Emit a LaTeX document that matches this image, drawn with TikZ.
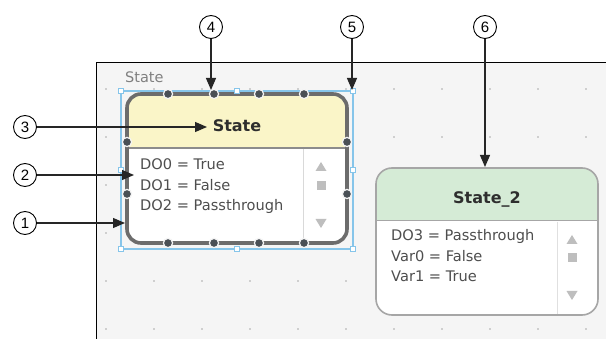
\documentclass[tikz,border=0pt]{standalone}
\usepackage{fontspec}
\setmainfont{DejaVu Sans}
\newfontfamily\numfont{Liberation Sans}
\usetikzlibrary{arrows.meta}
\definecolor{panelbg}{HTML}{F5F5F5}
\definecolor{gridc}{HTML}{CFCFCF}
\definecolor{hdryellow}{HTML}{FAF5C8}
\definecolor{hdrgreen}{HTML}{D5EBD6}
\definecolor{selborder}{HTML}{6C6C6C}
\definecolor{nodeborder}{HTML}{A6A6A6}
\definecolor{dotc}{HTML}{4A5056}
\definecolor{selblue}{HTML}{86C5EA}
\definecolor{bodytext}{HTML}{4E4E4E}
\definecolor{hdrtext}{HTML}{2E2E2E}
\definecolor{scrollc}{HTML}{BEBEBE}
\tikzset{
  callout/.style={circle, draw=black, line width=0.9pt, minimum size=23pt, inner sep=0pt, font=\numfont\fontsize{15}{15}\selectfont},
  pointer/.style={draw=black!85, line width=1.2pt, -{Triangle[length=12pt,width=10pt]}},
  bodyline/.style={anchor=base west, inner sep=0pt, text=bodytext, font=\fontsize{14.6}{16}\selectfont},
  hdrlabel/.style={anchor=base, inner sep=0pt, text=hdrtext, font=\bfseries\fontsize{16}{18}\selectfont},
  handle/.style={draw=selblue, fill=white, line width=1pt},
  bdot/.style={fill=dotc, draw=panelbg, line width=1.2pt},
  scrollmark/.style={fill=scrollc},
}
\begin{document}
\begin{tikzpicture}[x=1pt,y=-1pt]
\useasboundingbox (0,0) rectangle (606,339);
\fill[white] (0,0) rectangle (606,339);
% panel
\fill[panelbg] (96,63) rectangle (606,339);
\foreach \gx in {106,154,...,590} {
  \foreach \gy in {89,137,...,335} {
    \fill[gridc] (\gx-1,\gy-1) rectangle (\gx+1,\gy+1);
  }
}
\draw[black, line width=1pt] (96,339) -- (96,63) -- (606,63);
\node[anchor=base west, inner sep=0pt, text=black!50, font=\fontsize{14.5}{16}\selectfont] (lbl) at (125,83) {State};

% ---------- State (selected) ----------
\draw[selblue, line width=1.6pt] (121,91) rectangle (353,249);
\fill[white, rounded corners=14pt] (127,94) rectangle (347,243);
\begin{scope}
  \clip[rounded corners=14pt] (127,94) rectangle (347,243);
  \fill[hdryellow] (127,94) rectangle (347,148);
\end{scope}
\draw[black!45, line width=1.2pt] (127,148) -- (347,148);
\draw[black!15, line width=0.8pt] (303,149) -- (303,242);
\draw[selborder, line width=3.6pt, rounded corners=14pt] (127,94) rectangle (347,243);
\foreach \dx in {168,214,259,304} {
  \filldraw[bdot] (\dx,94) circle (4.6pt);
  \filldraw[bdot] (\dx,243) circle (4.6pt);
}
\foreach \dy in {142,194} {
  \filldraw[bdot] (127,\dy) circle (4.6pt);
  \filldraw[bdot] (347,\dy) circle (4.6pt);
}
\foreach \hx/\hy in {121/91,237/91,353/91,121/170,353/170,121/249,237/249,353/249} {
  \draw[handle] (\hx-2.8,\hy-2.8) rectangle (\hx+2.8,\hy+2.8);
}
\node[hdrlabel] (s1title) at (237,132) {State};
\node[bodyline] (s1a) at (140,170) {DO0 = True};
\node[bodyline] (s1b) at (140,190.5) {DO1 = False};
\node[bodyline] (s1c) at (140,211) {DO2 = Passthrough};
\fill[scrollmark] (315.5,171) -- (326.5,171) -- (321,162) -- cycle;
\fill[scrollmark] (316.5,181.5) rectangle (325.5,190.5);
\fill[scrollmark] (315.5,219) -- (326.5,219) -- (321,228) -- cycle;

% ---------- State_2 ----------
\fill[white, rounded corners=16pt] (376,168) rectangle (598,315);
\begin{scope}
  \clip[rounded corners=16pt] (376,168) rectangle (598,315);
  \fill[hdrgreen] (376,168) rectangle (598,221);
\end{scope}
\draw[black!35, line width=1pt] (376,221) -- (598,221);
\draw[black!12, line width=0.8pt] (557,222) -- (557,314);
\draw[nodeborder, line width=1.6pt, rounded corners=16pt] (376,168) rectangle (598,315);
\node[hdrlabel] (s2title) at (487,204) {State\_2};
\node[bodyline] (s2a) at (391,241) {DO3 = Passthrough};
\node[bodyline] (s2b) at (391,261.5) {Var0 = False};
\node[bodyline] (s2c) at (391,282) {Var1 = True};
\fill[scrollmark] (566.5,244) -- (577.5,244) -- (572,235) -- cycle;
\fill[scrollmark] (567.5,253.5) rectangle (576.5,262.5);
\fill[scrollmark] (566.5,291) -- (577.5,291) -- (572,300) -- cycle;

% ---------- callouts ----------
\node[callout] (c1) at (25,223) {1};
\node[callout] (c2) at (25,175) {2};
\node[callout] (c3) at (25,127) {3};
\node[callout] (c4) at (211,27) {4};
\node[callout] (c5) at (352,27) {5};
\node[callout] (c6) at (485,27) {6};
\coordinate (t1) at (125,223);
\coordinate (t2) at (134,175);
\coordinate (t3) at (207,127);
\coordinate (t4) at (211,90);
\coordinate (t5) at (352,90);
\coordinate (t6) at (485,167);
\draw[pointer] (c1) -- (t1);
\draw[pointer] (c2) -- (t2);
\draw[pointer] (c3) -- (t3);
\draw[pointer] (c4) -- (t4);
\draw[pointer] (c5) -- (t5);
\draw[pointer] (c6) -- (t6);
\end{tikzpicture}
\end{document}
